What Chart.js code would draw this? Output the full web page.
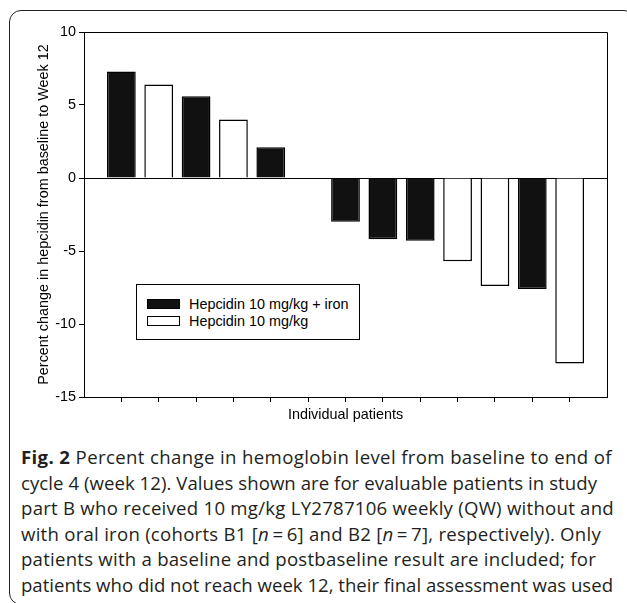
<!DOCTYPE html>
<html><head><meta charset="utf-8">
<script src="https://cdn.jsdelivr.net/npm/chart.js@4.4.1/dist/chart.umd.min.js"></script>
<style>
html,body{margin:0;padding:0;background:#fff;width:627px;height:603px;overflow:hidden;}
body{position:relative;font-family:"Liberation Sans",Arial,sans-serif;}
#frame{position:absolute;left:9px;top:10px;width:627px;height:595px;border:1.5px solid #222;border-radius:12px;box-sizing:border-box;}
#chart{position:absolute;left:0;top:0;}
#legend{position:absolute;left:136px;top:284px;width:224px;height:56px;border:1px solid #000;box-sizing:border-box;background:#fff;font:14.4px "Liberation Sans",Arial,sans-serif;color:#000;}
.item{position:absolute;left:10px;height:16px;line-height:16px;white-space:nowrap;}
.sw{position:absolute;left:0;top:3px;width:33px;height:10px;box-sizing:border-box;border:1px solid #000;}
.lbl{position:absolute;left:42px;top:0;}
#caption{position:absolute;left:21px;top:444px;font-family:"Open Sans",sans-serif;font-size:18.6px;line-height:25.6px;color:#231f20;}
#caption div{white-space:nowrap;display:block;width:max-content;}
</style></head>
<body>
<div id="frame"></div>
<canvas id="chart" width="627" height="430"></canvas>
<div id="legend"></div>
<div id="caption"></div>
<script>
const patients = ['', 'P1', 'P2', 'P3', 'P4', 'P5', 'P6', 'P7', 'P8', 'P9', 'P10', 'P11', 'P12', 'P13', ''];
const ironChange   = [null, 7.3, null, 5.6, null, 2.1, null, -3.0, -4.2, -4.3, null, null, -7.6, null, null];
const noIronChange = [null, null, 6.4, null, 4.0, null, null, null, null, null, -5.7, -7.4, null, -12.7, null];
const seriesNames = ['Hepcidin 10 mg/kg + iron', 'Hepcidin 10 mg/kg'];
const yTicks = [10, 5, 0, -5, -10, -15];
const yTitle = 'Percent change in hepcidin from baseline to Week 12';
const xTitle = 'Individual patients';
const captionLines = [
  ['Fig. 2', ' Percent change in hemoglobin level from baseline to end of'],
  ['', 'cycle 4 (week 12). Values shown are for evaluable patients in study'],
  ['', 'part B who received 10 mg/kg LY2787106 weekly (QW) without and'],
  ['', 'with oral iron (cohorts B1 [<i>n</i>\u2009=\u20096] and B2 [<i>n</i>\u2009=\u20097], respectively). Only'],
  ['', 'patients with a baseline and postbaseline result are included; for'],
  ['', 'patients who did not reach week 12, their final assessment was used']
];
// right edge of each caption line in the reference (styling)
const captionRight = [612, 597, 614, 601, 596, 613];

const fontFam = '"Liberation Sans", Arial, sans-serif';
const fs = 14.4;
const black = '#000';

const boxPlugin = {
  id: 'plotBox',
  afterDraw(chart) {
    const a = chart.chartArea, c = chart.ctx;
    c.save();
    c.strokeStyle = black; c.lineWidth = 1;
    c.beginPath();
    c.moveTo(Math.round(a.left) + 0.5, Math.round(a.top) + 0.5);
    c.lineTo(Math.round(a.right) + 0.5, Math.round(a.top) + 0.5);
    c.lineTo(Math.round(a.right) + 0.5, Math.round(a.bottom) + 0.5);
    c.stroke();
    c.restore();
  }
};

new Chart(document.getElementById('chart'), {
  type: 'bar',
  data: {
    labels: patients,
    datasets: [
      { label: seriesNames[0], data: ironChange, backgroundColor: '#111', borderColor: black, borderWidth: 1.5,
        grouped: false, barPercentage: 0.77, categoryPercentage: 1 },
      { label: seriesNames[1], data: noIronChange, backgroundColor: '#fff', borderColor: black, borderWidth: 1.5,
        grouped: false, barPercentage: 0.77, categoryPercentage: 1 }
    ]
  },
  options: {
    responsive: false, animation: false, devicePixelRatio: 1,
    layout: { padding: { left: 0, top: 32, right: 20, bottom: 0 } },
    plugins: { legend: { display: false }, tooltip: { enabled: false } },
    scales: {
      x: {
        offset: false,
        grid: { display: true, offset: false, drawOnChartArea: false, drawTicks: true, tickLength: 5, lineWidth: 1,
          tickColor: (c) => (c.index === 0 || c.index === patients.length - 1) ? 'rgba(0,0,0,0)' : black },
        border: { display: true, color: black, width: 1 },
        ticks: { display: false, autoSkip: false },
        title: { display: true, text: xTitle, color: black, font: { family: fontFam, size: fs }, padding: { top: 0, bottom: 6.5 } },
        afterFit(s) { s.height = 33; }
      },
      y: {
        min: -15, max: 10,
        afterBuildTicks(s) { s.ticks = yTicks.map(v => ({ value: v })); },
        grid: { drawOnChartArea: true, drawTicks: true, tickLength: 5, tickColor: black, lineWidth: 1,
          color: (c) => (c.tick && c.tick.value === 0) ? black : 'rgba(0,0,0,0)' },
        border: { display: true, color: black, width: 1 },
        ticks: { color: black, font: { family: fontFam, size: fs }, padding: 3 },
        title: { display: true, text: yTitle, color: black, font: { family: fontFam, size: fs }, padding: { top: 35.4, bottom: 0 } },
        afterFit(s) { s.width = 84; }
      }
    }
  },
  plugins: [boxPlugin]
});

// Legend (inset box)
const legend = document.getElementById('legend');
const swatchFill = ['#111', '#fff'];
seriesNames.forEach((name, i) => {
  const it = document.createElement('div');
  it.className = 'item';
  it.style.top = (11 + i * 16.7) + 'px';
  it.innerHTML = '<span class="sw" style="background:' + swatchFill[i] + '"></span><span class="lbl"></span>';
  it.querySelector('.lbl').textContent = name;
  legend.appendChild(it);
});

// Caption
const cap = document.getElementById('caption');
const capLeft = 21;
captionLines.forEach((l, i) => {
  const d = document.createElement('div');
  d.innerHTML = (l[0] ? '<b>' + l[0] + '</b>' : '') + l[1];
  cap.appendChild(d);
  const w = d.getBoundingClientRect().width;
  const n = d.textContent.length;
  const target = captionRight[i] - capLeft;
  d.style.letterSpacing = ((target - w) / n) + 'px';
});
</script>
</body></html>
